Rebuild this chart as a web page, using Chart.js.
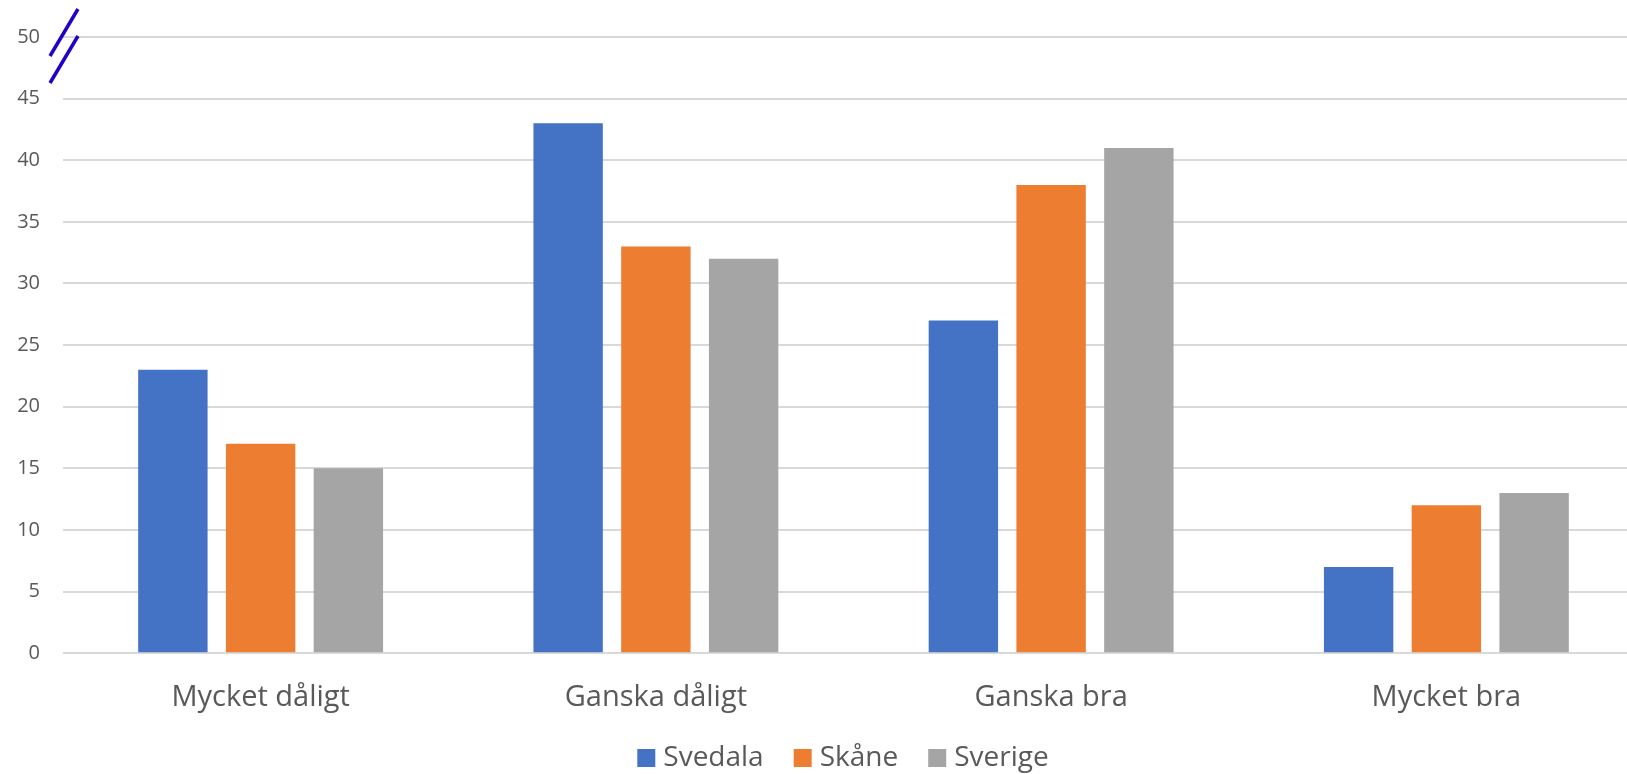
<!DOCTYPE html>
<html>
<head>
<meta charset="utf-8">
<script src="https://cdn.jsdelivr.net/npm/chart.js@4.4.1/dist/chart.umd.min.js"></script>
<style>
  html, body { margin: 0; padding: 0; background: #ffffff; }
  #wrap { width: 1627px; height: 774px; position: relative; }
</style>
</head>
<body>
<div id="wrap"><canvas id="c" width="1627" height="774"></canvas></div>
<script>
const categories = ["Mycket dåligt", "Ganska dåligt", "Ganska bra", "Mycket bra"];
const seriesNames = ["Svedala", "Skåne", "Sverige"];
const svedala = [23, 43, 27, 7];
const skane = [17, 33, 38, 12];
const sverige = [15, 32, 41, 13];
const seriesColors = ["#4472C4", "#ED7D31", "#A5A5A5"];
const yMin = 0, yMax = 50, yStep = 5;

const breakMarks = {
  id: 'breakMarks',
  afterDraw(chart) {
    const ctx = chart.ctx;
    const y = chart.scales.y;
    const left = chart.chartArea.left;
    const y50 = y.getPixelForValue(yMax);
    ctx.save();
    ctx.strokeStyle = '#2200C8';
    ctx.lineWidth = 3.5;
    ctx.lineCap = 'butt';
    ctx.beginPath();
    ctx.moveTo(left - 13, y50 + 19);
    ctx.lineTo(left + 15, y50 - 28);
    ctx.moveTo(left - 13, y50 + 46);
    ctx.lineTo(left + 15, y50 - 1);
    ctx.stroke();
    ctx.restore();
  }
};

// The original plot runs a little past the right edge of the (cropped) picture
const extendPlot = {
  id: 'extendPlot',
  afterLayout(chart, args, opts) {
    const x = chart.scales.x;
    x.right += opts.extra;
    x.width = x.right - x.left;
    x.configure();
    chart.chartArea.right += opts.extra;
    chart.chartArea.width = chart.chartArea.right - chart.chartArea.left;
  }
};

// Legend drawn from the datasets (labels + colours), placed under the axis labels
const bottomLegend = {
  id: 'bottomLegend',
  afterDraw(chart, args, opts) {
    const ctx = chart.ctx;
    const items = chart.data.datasets.map(ds => ({ text: ds.label, color: ds.backgroundColor }));
    ctx.save();
    ctx.font = opts.fontSize + 'px "Open Sans"';
    ctx.textBaseline = 'middle';
    ctx.textAlign = 'left';
    const widths = items.map(it => ctx.measureText(it.text).width);
    let total = 0;
    items.forEach((it, i) => {
      total += opts.box + opts.boxGap + widths[i];
      if (i < items.length - 1) total += opts.itemGap;
    });
    let x = opts.centerX - total / 2;
    const cy = opts.centerY;
    items.forEach((it, i) => {
      ctx.fillStyle = it.color;
      ctx.fillRect(x, cy - opts.box / 2, opts.box, opts.box);
      x += opts.box + opts.boxGap;
      ctx.fillStyle = '#595959';
      ctx.fillText(it.text, x, cy);
      x += widths[i] + opts.itemGap;
    });
    ctx.restore();
  }
};

const data = {
  labels: categories,
  datasets: [svedala, skane, sverige].map((vals, i) => ({
    label: seriesNames[i],
    data: vals,
    backgroundColor: seriesColors[i],
    borderWidth: 0,
    categoryPercentage: 0.666,
    barPercentage: 0.791
  }))
};

new Chart(document.getElementById('c'), {
  type: 'bar',
  data,
  plugins: [breakMarks, extendPlot, bottomLegend],
  options: {
    responsive: false,
    animation: false,
    devicePixelRatio: 1,
    layout: { padding: { top: 37, right: 0, left: 0, bottom: 32 } },
    plugins: {
      tooltip: { enabled: false },
      legend: { display: false },
      extendPlot: { extra: 17 },
      bottomLegend: { fontSize: 28, box: 18, boxGap: 8, itemGap: 30, centerX: 843, centerY: 758 }
    },
    scales: {
      x: {
        grid: { display: false, drawTicks: false },
        border: { display: false },
        ticks: {
          color: '#595959',
          padding: 27,
          font: { family: 'Open Sans', size: 29 }
        }
      },
      y: {
        min: yMin,
        max: yMax,
        grid: { color: '#d9d9d9', lineWidth: 2, drawTicks: false },
        border: { display: false },
        afterFit(scale) { scale.width = 63; },
        ticks: {
          stepSize: yStep,
          color: '#595959',
          padding: 23,
          font: { family: 'Open Sans', size: 20 }
        }
      }
    }
  }
});
</script>
</body>
</html>
